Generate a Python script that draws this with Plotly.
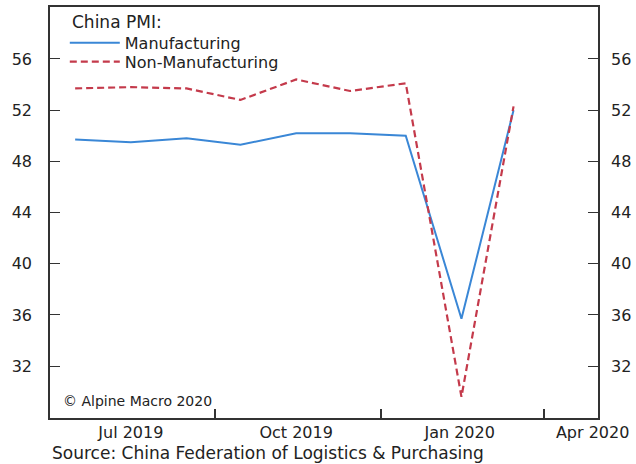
import plotly.graph_objects as go

# China PMI, monthly readings (plotted mid-month)
months = ['2019-07-15', '2019-08-15', '2019-09-15', '2019-10-15', '2019-11-15',
          '2019-12-15', '2020-01-15', '2020-02-15', '2020-03-15']
manufacturing = [49.7, 49.5, 49.8, 49.3, 50.2, 50.2, 50.0, 35.7, 52.0]
non_manufacturing = [53.7, 53.8, 53.7, 52.8, 54.4, 53.5, 54.1, 29.6, 52.3]

y_ticks = [32, 36, 40, 44, 48, 52, 56]
quarter_bounds = ['2019-10-01', '2020-01-01', '2020-04-01']
label_pos = ['2019-08-15', '2019-11-15', '2020-02-14', '2020-04-28']
label_text = ['Jul 2019', 'Oct 2019', 'Jan 2020', 'Apr 2020']

FONT = 'DejaVu Sans'
TXT = '#222222'
AX = '#333333'

fig = go.Figure()
# manufacturing on the main axes (quarter tick marks, left labels)
fig.add_trace(go.Scatter(
    x=months, y=manufacturing, name='Manufacturing', mode='lines',
    line=dict(color='#3a87d6', width=2), legend='legend',
))
# non-manufacturing on the twin axes (same ranges; these carry the
# centred quarter labels and the right-hand labels)
fig.add_trace(go.Scatter(
    x=months, y=non_manufacturing, name='Non-Manufacturing', mode='lines',
    xaxis='x2', yaxis='y2', legend='legend2',
    line=dict(color='#c43a4b', width=2.2, dash='7px,4px'),
))

xrange_ = ['2019-07-01', '2020-05-01']
yrange_ = [27.95, 60.06]

leg_font = dict(size=16, family=FONT, color=TXT)
tick_font = dict(size=16, family=FONT, color=TXT)

fig.update_layout(
    width=636, height=464,
    paper_bgcolor='white', plot_bgcolor='white',
    font=dict(family=FONT, color=TXT, size=16),
    margin=dict(l=50, r=38, t=7, b=46),
    showlegend=True,
    legend=dict(font=leg_font, x=0.027, y=0.954, xanchor='left', yanchor='top',
                bgcolor='rgba(0,0,0,0)', itemwidth=50),
    legend2=dict(font=leg_font, x=0.027, y=0.908, xanchor='left', yanchor='top',
                 bgcolor='rgba(0,0,0,0)', itemwidth=50),
    xaxis=dict(
        type='date', range=xrange_, automargin=False,
        showline=True, linecolor=AX, linewidth=1.5, mirror=True,
        ticks='inside', ticklen=9, tickcolor=AX, tickwidth=1.5,
        tickvals=quarter_bounds, showticklabels=False,
        showgrid=False, zeroline=False,
    ),
    xaxis2=dict(
        type='date', range=xrange_, overlaying='x', side='bottom', anchor='y2',
        automargin=False, ticklabeloverflow='allow',
        tickvals=label_pos, ticktext=label_text, ticks='',
        ticklabelstandoff=3,
        showline=False, showgrid=False, zeroline=False,
        tickfont=tick_font,
    ),
    yaxis=dict(
        range=yrange_, tickvals=y_ticks, automargin=False,
        showline=True, linecolor=AX, linewidth=1.5, mirror=True,
        ticks='inside', ticklen=10, tickcolor=AX, tickwidth=1,
        ticklabelstandoff=13,
        showgrid=False, zeroline=False,
        tickfont=tick_font,
    ),
    yaxis2=dict(
        range=yrange_, tickvals=y_ticks, overlaying='y', side='right', anchor='x2',
        automargin=False,
        showline=False, ticks='inside', ticklen=10, tickcolor=AX, tickwidth=1,
        ticklabelstandoff=12,
        showgrid=False, zeroline=False,
        tickfont=tick_font,
    ),
    annotations=[
        dict(text='China PMI:', xref='paper', yref='paper',
             x=0.0365, y=0.9635, xanchor='left', yanchor='middle', showarrow=False,
             font=dict(size=17, family=FONT, color=TXT)),
        dict(text='\u00a9 Alpine Macro 2020', xref='paper', yref='paper',
             x=0.02, y=0.041, xanchor='left', yanchor='middle', showarrow=False,
             font=dict(size=14, family=FONT, color=TXT)),
        dict(text='Source: China Federation of Logistics & Purchasing',
             xref='paper', yref='paper', x=0.0, y=-0.085,
             xanchor='left', yanchor='middle', showarrow=False,
             font=dict(size=17, family=FONT, color=TXT)),
    ],
)

# drop the browser's default body margin so the figure fills the window
fig.write_html('out.html', config={'displayModeBar': False},
               post_script="document.body.style.margin='0';")
